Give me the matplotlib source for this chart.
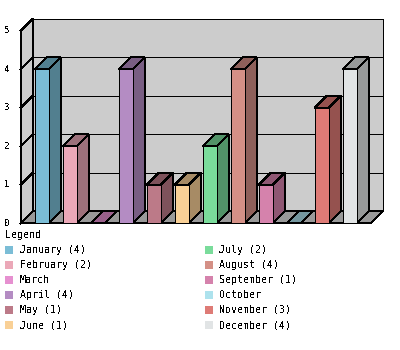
import matplotlib
matplotlib.use("Agg")
import matplotlib.pyplot as plt
from matplotlib.patches import Polygon, Rectangle
from matplotlib.colors import to_rgb

months = ['January', 'February', 'March', 'April', 'May', 'June',
          'July', 'August', 'September', 'October', 'November', 'December']
counts = [4, 2, 0, 4, 1, 1, 2, 4, 1, 0, 3, 4]
colors = ['#7bbdd6', '#eba8b8', '#e690d0', '#b48cc3', '#bc7a88', '#f9d096',
          '#7adc9b', '#d49086', '#d582ac', '#ade2ed', '#de7b76', '#e1e4e5']
yticks = [0, 1, 2, 3, 4, 5]

plt.rcParams['text.antialiased'] = False
plt.rcParams['font.family'] = 'DejaVu Sans Mono'

W, H = 400, 350
fig = plt.figure(figsize=(W / 100, H / 100), dpi=100)
fig.patch.set_facecolor('white')

# data space: one slot per month, one unit per count
slot_px, unit_px = 28.0, 38.5
x0_px, y0_px = 20.7, 223.3          # where (0, 0) sits, from top-left
ax = fig.add_axes([0, 0, 1, 1])
ax.set_xlim(-x0_px / slot_px, (W - x0_px) / slot_px)
ax.set_ylim(-(H - y0_px) / unit_px, y0_px / unit_px)
ax.axis('off')

dx, dy = 12 / slot_px, 12 / unit_px   # 3d depth offset
n = len(months)
xmax = n + 0.5
ymax = max(yticks)
lw = 0.72


def poly(pts, fc, z):
    ax.add_patch(Polygon(pts, closed=True, facecolor=fc, edgecolor='black',
                         linewidth=lw, antialiased=False, zorder=z))


def darker(c, f=0.67):
    r, g, b = to_rgb(c)
    return (r * f, g * f, b * f)


# walls and floor
poly([(dx, dy), (xmax + dx, dy), (xmax + dx, ymax + dy), (dx, ymax + dy)], '#cccccc', 1)
poly([(0, 0), (dx, dy), (dx, ymax + dy), (0, ymax)], '#cccccc', 1)
poly([(0, 0), (xmax, 0), (xmax + dx, dy), (dx, dy)], '#999999', 1)

for v in yticks:
    ax.plot([dx, xmax + dx], [v + dy, v + dy], color='black', lw=lw,
            antialiased=False, zorder=2)
    ax.plot([0, dx], [v, v + dy], color='black', lw=lw,
            antialiased=False, zorder=2)
    ax.text(-0.49, v, str(v), ha='center', va='center', fontsize=6.5, zorder=5)

# bars
for i, (v, c) in enumerate(zip(counts, colors)):
    left, right = i + 0.5, i + 1.0
    dc = darker(c)
    poly([(right, 0), (right + dx, dy), (right + dx, v + dy), (right, v)], dc, 3)
    poly([(left, v), (right, v), (right + dx, v + dy), (left + dx, v + dy)], dc, 3)
    ax.add_patch(Rectangle((left, 0), right - left, v, facecolor=c,
                           edgecolor='black', linewidth=lw,
                           antialiased=False, zorder=4))

# legend
fig.text(5 / W, 1 - 235 / H, 'Legend', ha='left', va='center', fontsize=7.2)
for i, (m, v, c) in enumerate(zip(months, counts, colors)):
    col, row = divmod(i, 6)
    sx = 5 + col * 200
    sy = 250 + row * 15
    fig.patches.append(Rectangle((sx / W, 1 - (sy + 4) / H), 8 / W, 8 / H,
                                 facecolor=c, edgecolor='none',
                                 transform=fig.transFigure, figure=fig))
    label = f'{m} ({v})' if v else m
    fig.text((sx + 14.5) / W, 1 - sy / H, label, ha='left', va='center',
             fontsize=7.2)

fig.savefig('out.png', dpi=100)
